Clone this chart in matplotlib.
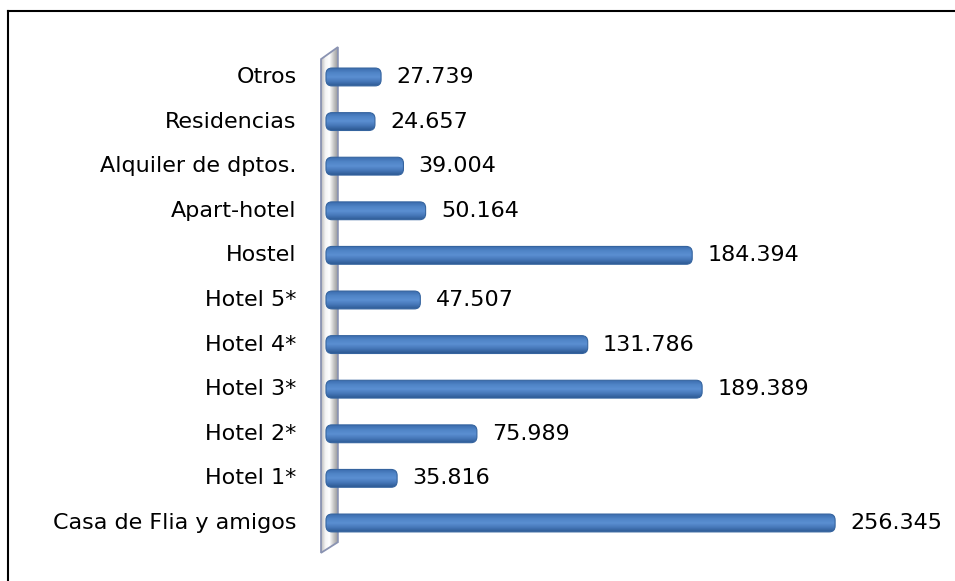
import numpy as np
import matplotlib.pyplot as plt
from matplotlib.patches import FancyBboxPatch, Polygon
from matplotlib.colors import LinearSegmentedColormap
from matplotlib.lines import Line2D

# datos (de abajo hacia arriba)
categorias = ['Casa de Flia y amigos', 'Hotel 1*', 'Hotel 2*', 'Hotel 3*', 'Hotel 4*',
              'Hotel 5*', 'Hostel', 'Apart-hotel', 'Alquiler de dptos.', 'Residencias', 'Otros']
valores = [256.345, 35.816, 75.989, 189.389, 131.786, 47.507, 184.394, 50.164, 39.004, 24.657, 27.739]
etiquetas = ['256.345', '35.816', '75.989', '189.389', '131.786', '47.507',
             '184.394', '50.164', '39.004', '24.657', '27.739']

plt.rcParams['font.family'] = ['DejaVu Sans']

fig = plt.figure(figsize=(9.55, 5.81), dpi=100)
ax = fig.add_axes([0.3351, 0.0423, 0.6655, 0.8828])
ax.set_xlim(-3, 317)
ax.set_ylim(-0.75, 10.75)
ax.axis('off')

# pared lateral (gris con brillo)
wall_cmap = LinearSegmentedColormap.from_list('wall', ['#b8b8b8', '#f4f4f4', '#ffffff', '#c8c8c8', '#9a9a9a'])
wall = Polygon([(-2.5, -0.67), (-2.5, 10.40), (6.0, 10.67), (6.0, -0.43)], closed=True,
               facecolor='none', edgecolor='#8a93b2', lw=1.3, zorder=1)
ax.add_patch(wall)
im = ax.imshow(np.linspace(0, 1, 64).reshape(1, -1), cmap=wall_cmap, aspect='auto',
               extent=[-2.5, 6.0, -0.7, 10.7], zorder=0.9)
im.set_clip_path(wall)

# barras con degradado
bar_cmap = LinearSegmentedColormap.from_list('bar', ['#2d5a94', '#4677b8', '#5b8fd2', '#4f84c6', '#3c6cae'])
h = 0.4
grad = np.linspace(0, 1, 64).reshape(-1, 1)
for i, v in enumerate(valores):
    box = FancyBboxPatch((0, i - h / 2), v, h, boxstyle='round,pad=0,rounding_size=3',
                         mutation_aspect=0.045, facecolor='none', edgecolor='#35649f',
                         lw=0.8, zorder=3)
    ax.add_patch(box)
    g = ax.imshow(grad, cmap=bar_cmap, aspect='auto', origin='lower',
                  extent=[0, v, i - h / 2, i + h / 2], zorder=2)
    g.set_clip_path(box)
    ax.annotate(etiquetas[i], (v, i), xytext=(11, 0), textcoords='offset points',
                ha='left', va='center', fontsize=16, color='black')
    ax.annotate(categorias[i], (0, i), xytext=(-21, 0), textcoords='offset points',
                ha='right', va='center', fontsize=16, color='black', annotation_clip=False)

ax.set_xlim(-3, 317)
ax.set_ylim(-0.75, 10.75)

# marco exterior
fig.add_artist(Line2D([0.0079, 0.0079], [0, 0.981], color='black', lw=1.5, transform=fig.transFigure))
fig.add_artist(Line2D([0.0079, 1], [0.981, 0.981], color='black', lw=1.5, transform=fig.transFigure))

fig.savefig('out.png', dpi=100)
